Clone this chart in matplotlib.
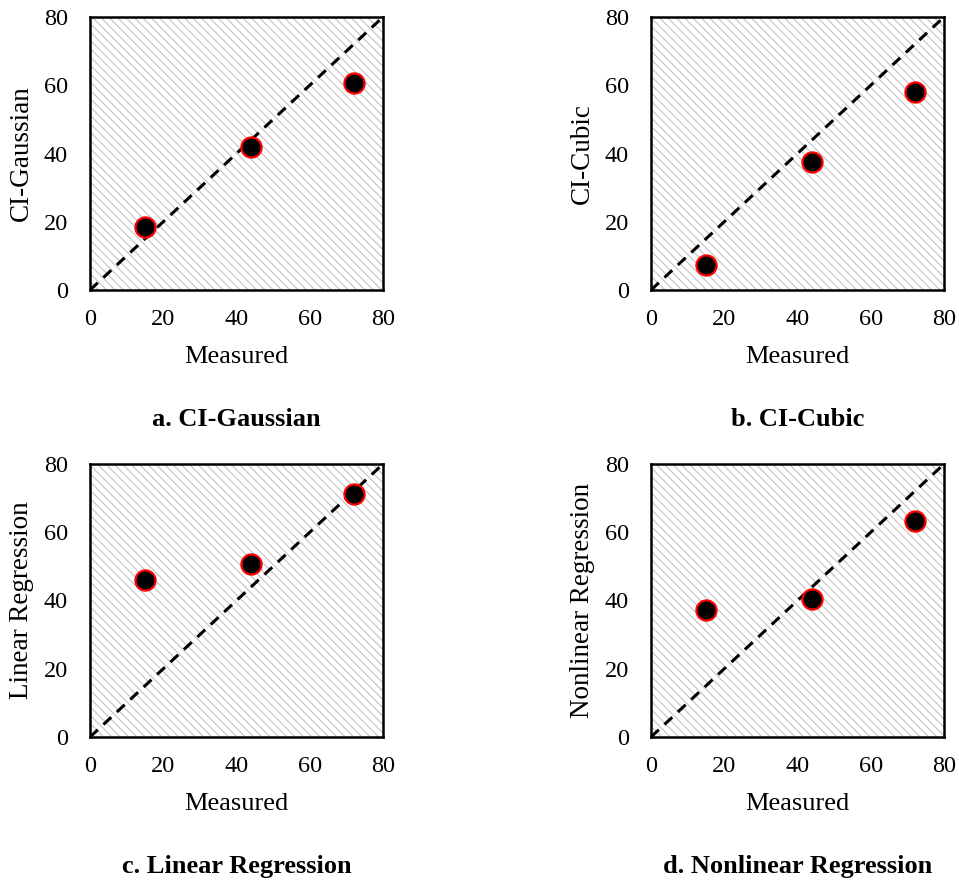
import matplotlib
matplotlib.use("Agg")
import matplotlib.pyplot as plt
from matplotlib.patches import Rectangle

plt.rcParams['font.family'] = ['Liberation Serif', 'DejaVu Serif']
plt.rcParams['hatch.linewidth'] = 0.8

# measured values (same for each panel)
measured = [15, 44, 72]

# predicted values per model
ci_gaussian = [18.5, 42, 60.8]
ci_cubic = [7.2, 37.5, 58]
linear_reg = [46, 50.7, 71.3]
nonlinear_reg = [37.2, 40.3, 63.3]

ylabels = ["CI-Gaussian", "CI-Cubic", "Linear Regression", "Nonlinear Regression"]
titles = ["a. CI-Gaussian", "b. CI-Cubic", "c. Linear Regression", "d. Nonlinear Regression"]
ticks = [0, 20, 40, 60, 80]

fig = plt.figure(figsize=(9.59, 8.81), dpi=100)

# axes placement in figure fractions (left, bottom, width, height)
positions = [
    [90 / 959, 1 - 290 / 881, 293 / 959, 273 / 881],
    [651 / 959, 1 - 290 / 881, 293 / 959, 273 / 881],
    [90 / 959, 1 - 737 / 881, 293 / 959, 273 / 881],
    [651 / 959, 1 - 737 / 881, 293 / 959, 273 / 881],
]

series = [ci_gaussian, ci_cubic, linear_reg, nonlinear_reg]

for pos, yvals, ylab, title in zip(positions, series, ylabels, titles):
    ax = fig.add_axes(pos)
    # hatched background
    ax.add_patch(Rectangle((0, 0), 1, 1, transform=ax.transAxes, facecolor='white',
                           edgecolor='#c2c2c2', linewidth=0, hatch='\\\\\\\\', zorder=0))
    ax.plot(ticks, ticks, linestyle=(0, (3.5, 2.5)), color='black', lw=2.2, zorder=2)
    ax.plot(measured, yvals, 'o', ms=14.5, mfc='black', mec='red', mew=1.6, zorder=3)
    ax.set_xlim(0, 80)
    ax.set_ylim(0, 80)
    ax.set_xticks(ticks)
    ax.set_yticks(ticks)
    ax.tick_params(length=0, labelsize=17.5)
    ax.tick_params(axis='x', pad=14)
    ax.tick_params(axis='y', pad=16)
    for s in ax.spines.values():
        s.set_linewidth(1.8)
        s.set_color('black')
    ax.set_xlabel("Measured", fontsize=19)
    ax.set_ylabel(ylab, fontsize=19.5)
    ax.xaxis.set_label_coords(0.5, -0.205)
    ax.yaxis.set_label_coords(-0.19, 0.5)
    ax.text(0.5, -0.475, title, transform=ax.transAxes, ha='center', va='center',
            fontsize=19, fontweight='bold')

fig.savefig("out.png", dpi=100)
